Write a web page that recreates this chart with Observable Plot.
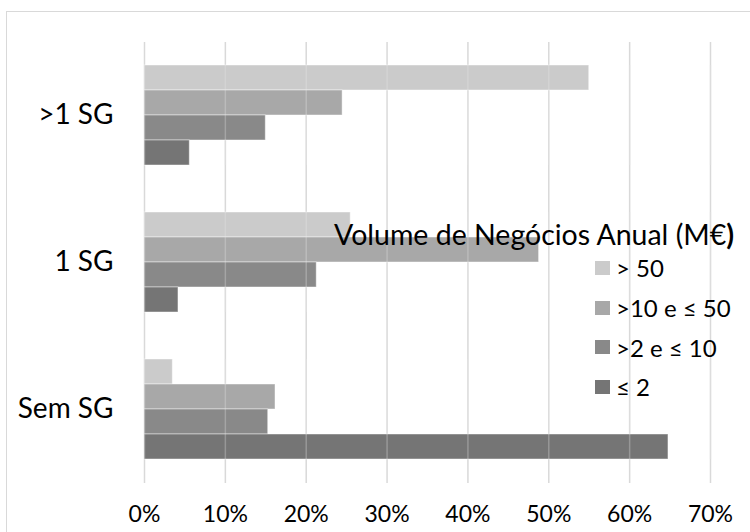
<!DOCTYPE html>
<html><head><meta charset="utf-8">
<script src="https://cdn.jsdelivr.net/npm/d3@7"></script>
<script src="https://cdn.jsdelivr.net/npm/@observablehq/plot@0.6"></script>
<style>
body{margin:0;width:750px;height:532px;overflow:hidden;background:#fff;font-family:Lato,"Open Sans",sans-serif;position:relative}
#frame{position:absolute;left:6px;top:11px;width:800px;height:600px;border:1.5px solid #d9d9d9;box-sizing:border-box}
#grid,#chart{position:absolute;left:0;top:0}
#grid svg,#chart svg{background:transparent}
#ltitle{position:absolute;left:334px;top:216px;line-height:36px;font-size:28.5px;color:#000;white-space:nowrap}
#legend{position:absolute;left:595px;top:248px}
.row{display:flex;align-items:center;height:39.7px;font-size:24px;color:#000;white-space:nowrap}
.sw{width:15px;height:14px;margin-right:6px}
</style></head><body>
<div id="frame"></div>
<div id="grid"></div>
<div id="chart"></div>
<div id="ltitle"></div>
<div id="legend"></div>
<script>
const groups = [">1 SG", "1 SG", "Sem SG"];
const series = ["> 50", ">10 e ≤ 50", ">2 e ≤ 10", "≤ 2"];
const colors = ["#cbcbcb", "#a8a8a8", "#898989", "#757575"];
// values (%) per group, in the order of `groups`
const over50 = [55.0, 25.5, 3.5];
const from10to50 = [24.5, 48.8, 16.2];
const from2to10 = [15.0, 21.3, 15.3];
const upTo2 = [5.6, 4.2, 64.8];
const xTicks = [0, 10, 20, 30, 40, 50, 60, 70];
const legendTitle = "Volume de Negócios Anual (M€";

const valuesBySeries = [over50, from10to50, from2to10, upTo2];
const data = groups.flatMap((g, i) => series.map((s, j) => ({group: g, series: s, value: valuesBySeries[j][i]})));

const common = {
  width: 750, height: 532,
  marginLeft: 144, marginRight: 40, marginTop: 42, marginBottom: 49,
  style: {fontFamily: "Lato, 'Open Sans', sans-serif", background: "transparent", color: "#000"}
};

// full-height gridlines (behind the bars)
const grid = Plot.plot({
  ...common,
  x: {domain: [0, 70], axis: null},
  marks: [Plot.ruleX(xTicks, {x: d => d, stroke: "#d9d9d9", strokeWidth: 1.5})]
});
document.getElementById("grid").appendChild(grid);

const chart = Plot.plot({
  ...common,
  x: {domain: [0, 70], label: null},
  fy: {domain: groups, paddingInner: 0.317, paddingOuter: 0.158, label: null},
  y: {domain: series, padding: 0, axis: null},
  color: {domain: series, range: colors},
  marks: [
    Plot.barX(data, {fy: "group", y: "series", x: "value", fill: "series", stroke: "#ffffff", strokeOpacity: 0.45, strokeWidth: 1}),
    Plot.ruleX(xTicks, {x: d => d, stroke: "#e8e8e8", strokeOpacity: 0.3, strokeWidth: 1.5}),
    Plot.axisX({ticks: xTicks, tickFormat: d => d + "%", tickSize: 0, tickPadding: 46, fontSize: 23, label: null}),
    Plot.axisFy({anchor: "left", tickSize: 0, tickPadding: 31, fontSize: 28, label: null})
  ]
});
document.getElementById("chart").appendChild(chart);

const t = document.getElementById("ltitle");
t.textContent = legendTitle;
const b = document.createElement("b"); b.textContent = ")"; t.appendChild(b);

const lg = document.getElementById("legend");
series.forEach((s, j) => {
  const r = document.createElement("div"); r.className = "row";
  const sw = document.createElement("div"); sw.className = "sw"; sw.style.background = colors[j];
  const tx = document.createElement("span"); tx.textContent = s;
  r.appendChild(sw); r.appendChild(tx); lg.appendChild(r);
});
</script>
</body></html>
